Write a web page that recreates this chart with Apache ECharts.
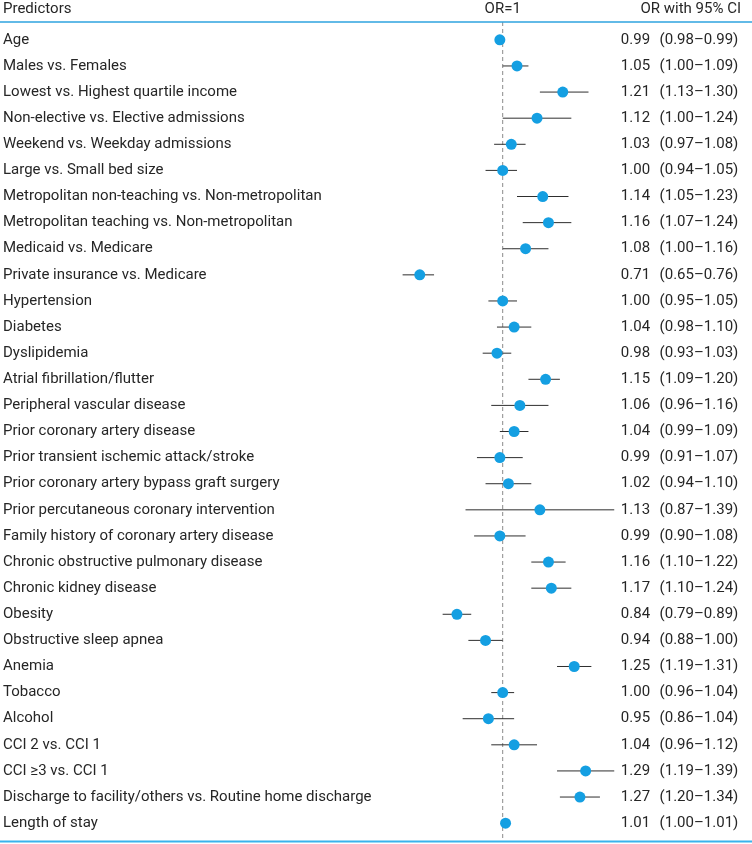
<!DOCTYPE html>
<html><head><meta charset="utf-8">
<script src="https://cdn.jsdelivr.net/npm/echarts@6/dist/echarts.min.js"></script>
<style>html,body{margin:0;padding:0;background:#fff}#c{width:752px;height:844px}</style>
</head><body><div id="c"></div>
<script>
const predictors = ["Age","Males vs. Females","Lowest vs. Highest quartile income","Non-elective vs. Elective admissions","Weekend vs. Weekday admissions","Large vs. Small bed size","Metropolitan non-teaching vs. Non-metropolitan","Metropolitan teaching vs. Non-metropolitan","Medicaid vs. Medicare","Private insurance vs. Medicare","Hypertension","Diabetes","Dyslipidemia","Atrial fibrillation/flutter","Peripheral vascular disease","Prior coronary artery disease","Prior transient ischemic attack/stroke","Prior coronary artery bypass graft surgery","Prior percutaneous coronary intervention","Family history of coronary artery disease","Chronic obstructive pulmonary disease","Chronic kidney disease","Obesity","Obstructive sleep apnea","Anemia","Tobacco","Alcohol","CCI 2 vs. CCI 1","CCI \u22653 vs. CCI 1","Discharge to facility/others vs. Routine home discharge","Length of stay"];
const orValues = [0.99,1.05,1.21,1.12,1.03,1.00,1.14,1.16,1.08,0.71,1.00,1.04,0.98,1.15,1.06,1.04,0.99,1.02,1.13,0.99,1.16,1.17,0.84,0.94,1.25,1.00,0.95,1.04,1.29,1.27,1.01];
const ciLow = [0.98,1.00,1.13,1.00,0.97,0.94,1.05,1.07,1.00,0.65,0.95,0.98,0.93,1.09,0.96,0.99,0.91,0.94,0.87,0.90,1.10,1.10,0.79,0.88,1.19,0.96,0.86,0.96,1.19,1.20,1.00];
const ciHigh = [0.99,1.09,1.30,1.24,1.08,1.05,1.23,1.24,1.16,0.76,1.05,1.10,1.03,1.20,1.16,1.09,1.07,1.10,1.39,1.08,1.22,1.24,0.89,1.00,1.31,1.04,1.04,1.12,1.39,1.34,1.01];
const refOR = 1;

const orText = orValues.map(v => v.toFixed(2));
const ciText = ciLow.map((l,i) => '(' + l.toFixed(2) + '\u2013' + ciHigh[i].toFixed(2) + ')');

const FONT = 'Roboto';
const FS = 15;
const TXT = '#262626';
const chart = echarts.init(document.getElementById('c'));
const gridTop = 26.8, band = 26.11;
chart.setOption({
  animation: false,
  backgroundColor: '#fff',
  grid: { left: 388.3, right: 134.9, top: gridTop, height: band * predictors.length },
  xAxis: { type: 'value', min: 0.6, max: 1.4, show: false },
  yAxis: [
    { type: 'category', inverse: true, data: predictors, position: 'left',
      axisLine: {show:false}, axisTick: {show:false}, splitLine: {show:false},
      axisLabel: { align: 'left', margin: 385.3, fontFamily: FONT, fontSize: FS, color: TXT } },
    { type: 'category', inverse: true, data: orText, position: 'right',
      axisLine: {show:false}, axisTick: {show:false},
      axisLabel: { align: 'right', margin: 33, fontFamily: FONT, fontSize: FS, color: TXT } },
    { type: 'category', inverse: true, data: ciText, position: 'right',
      axisLine: {show:false}, axisTick: {show:false},
      axisLabel: { align: 'left', margin: 42.5, fontFamily: FONT, fontSize: FS, color: TXT } }
  ],
  series: [
    { type: 'custom', yAxisIndex: 0, silent: true, clip: false,
      data: [[refOR]],
      renderItem: function (params, api) {
        const x = api.coord([api.value(0), 0])[0];
        return { type: 'line', shape: { x1: x, y1: 22, x2: x, y2: 841 },
          style: { stroke: '#8a8a8a', lineWidth: 1, lineDash: [4, 3] } };
      } },
    { type: 'custom', yAxisIndex: 0, silent: true,
      data: predictors.map((p,i) => [i, ciLow[i], ciHigh[i]]),
      encode: { y: 0, x: [1, 2] },
      renderItem: function (params, api) {
        const a = api.coord([api.value(1), api.value(0)]);
        const b = api.coord([api.value(2), api.value(0)]);
        return { type: 'line', shape: { x1: a[0], y1: a[1], x2: b[0], y2: b[1] },
          style: { stroke: '#2e2e2e', lineWidth: 1 } };
      } },
    { type: 'scatter', yAxisIndex: 0, symbol: 'circle', symbolSize: 11,
      itemStyle: { color: '#149fe2', opacity: 1 },
      data: orValues.map((v,i) => [v, i]) }
  ],
  graphic: [
    { type: 'line', shape: { x1: 0, y1: 22, x2: 752, y2: 22 }, style: { stroke: '#2ea3df', lineWidth: 1.5 }, z: 10 },
    { type: 'line', shape: { x1: 0, y1: 841.5, x2: 752, y2: 841.5 }, style: { stroke: '#39b3ec', lineWidth: 2 }, z: 10 },
    { type: 'text', x: 3, y: 9, style: { text: 'Predictors', font: FS + 'px ' + FONT, fill: TXT, textVerticalAlign: 'middle' } },
    { type: 'text', x: 502.7, y: 9, style: { text: 'OR=1', font: FS + 'px ' + FONT, fill: TXT, textAlign: 'center', textVerticalAlign: 'middle' } },
    { type: 'text', x: 741, y: 9, style: { text: 'OR with 95% CI', font: FS + 'px ' + FONT, fill: TXT, textAlign: 'right', textVerticalAlign: 'middle' } }
  ]
});
</script></body></html>
